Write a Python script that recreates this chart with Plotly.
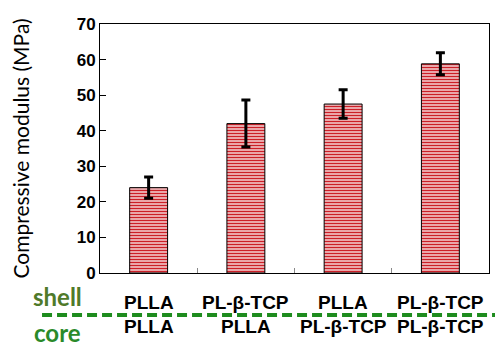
import plotly.graph_objects as go

# Compressive modulus of the four shell/core scaffold combinations
groups = ["PLLA/PLLA", "PL-β-TCP/PLLA", "PLLA/PL-β-TCP", "PL-β-TCP/PL-β-TCP"]
shell_labels = ["PLLA", "PL-β-TCP", "PLLA", "PL-β-TCP"]
core_labels = ["PLLA", "PLLA", "PL-β-TCP", "PL-β-TCP"]
modulus = [24.0, 42.0, 47.5, 58.8]
modulus_sd = [3.0, 6.6, 4.0, 3.1]
y_ticks = [0, 10, 20, 30, 40, 50, 60, 70]

positions = list(range(len(groups)))

fig = go.Figure()
fig.add_trace(go.Bar(
    x=positions,
    y=modulus,
    width=0.39,
    marker=dict(
        color="white",
        line=dict(color="black", width=1),
        pattern=dict(shape="-", fgcolor="#cc1f27", bgcolor="white",
                     size=3, solidity=0.6, fillmode="replace"),
    ),
    error_y=dict(type="data", array=modulus_sd, color="black",
                 thickness=3, width=4.5),
    hoverinfo="skip",
))

label_font = dict(family="Liberation Sans, Arial", size=19, color="black")
for i in positions:
    fig.add_annotation(x=i, xref="x", y=-0.119, yref="paper",
                       text="<b>%s</b>" % shell_labels[i], showarrow=False,
                       font=label_font, xanchor="center", yanchor="middle")
    fig.add_annotation(x=i, xref="x", y=-0.213, yref="paper",
                       text="<b>%s</b>" % core_labels[i], showarrow=False,
                       font=label_font, xanchor="center", yanchor="middle")

side_font = dict(family="Lato, Open Sans", size=24)
fig.add_annotation(x=-0.108, xref="paper", y=-0.095, yref="paper",
                   text="<b>shell</b>", showarrow=False,
                   font=dict(color="#4f7a2a", **side_font),
                   xanchor="center", yanchor="middle")
fig.add_annotation(x=-0.108, xref="paper", y=-0.24, yref="paper",
                   text="<b>core</b>", showarrow=False,
                   font=dict(color="#2a8a2a", **side_font),
                   xanchor="center", yanchor="middle")

# dashed divider between the shell row and the core row
fig.add_shape(type="line", xref="paper", yref="paper",
              x0=-0.149, x1=1.02, y0=-0.1687, y1=-0.1687,
              line=dict(color="#1e8c1e", width=4, dash="10px,5px"))

fig.update_layout(
    width=495, height=347,
    margin=dict(l=100, r=6, t=24, b=74),
    paper_bgcolor="white", plot_bgcolor="white",
    showlegend=False,
    xaxis=dict(range=[-0.5, 3.5], tickmode="array", tickvals=[0.5, 1.5, 2.5],
               showticklabels=False, ticks="inside", ticklen=5,
               tickcolor="#888888", showline=True, linecolor="black",
               linewidth=1, mirror=True, showgrid=False, zeroline=False),
    yaxis=dict(range=[0, 70], tickmode="array", tickvals=y_ticks,
               ticktext=["<b>%d</b>" % v for v in y_ticks],
               ticks="inside", ticklen=6, tickcolor="black",
               tickfont=dict(family="Liberation Sans, Arial", size=17,
                             color="black"),
               showline=True, linecolor="black", linewidth=1, mirror=True,
               showgrid=False, zeroline=False,
               title=dict(text="Compressive modulus (MPa)",
                          font=dict(family="Lato, Open Sans", size=21,
                                    color="black"),
                          standoff=41)),
)

fig.write_html("out.html")
